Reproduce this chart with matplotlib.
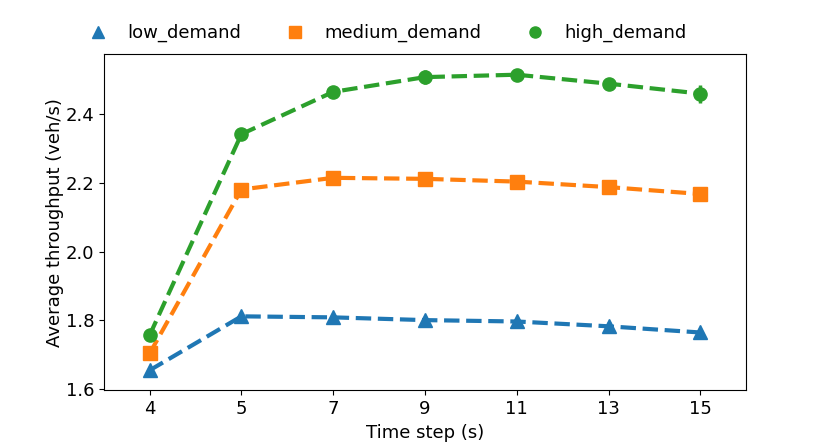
import matplotlib
matplotlib.use("Agg")
from matplotlib import pyplot as plt
from matplotlib.lines import Line2D
import numpy as np

time_steps = ["4", "5", "7", "9", "11", "13", "15"]
low_demand = [1.655, 1.812, 1.809, 1.801, 1.797, 1.783, 1.765]
medium_demand = [1.704, 2.181, 2.215, 2.212, 2.204, 2.188, 2.168]
high_demand = [1.757, 2.342, 2.465, 2.508, 2.515, 2.489, 2.460]
low_err = [0.01, 0.01, 0.01, 0.01, 0.01, 0.012, 0.01]
medium_err = [0.015, 0.015, 0.015, 0.018, 0.015, 0.015, 0.018]
high_err = [0.016, 0.016, 0.016, 0.02, 0.012, 0.014, 0.026]

series = [
    ("low_demand", low_demand, low_err, "#1f77b4", "^"),
    ("medium_demand", medium_demand, medium_err, "#ff7f0e", "s"),
    ("high_demand", high_demand, high_err, "#2ca02c", "o"),
]

fig, ax = plt.subplots(figsize=(8.3, 4.47), dpi=100)
fig.subplots_adjust(left=0.125, right=0.899, top=0.879, bottom=0.127)

x = np.arange(len(time_steps))
handles = []
for name, vals, err, color, marker in series:
    ax.errorbar(x, vals, yerr=err, color=color, marker=marker, markersize=9.5,
                linestyle="--", linewidth=3, elinewidth=2.5, capsize=0)
    handles.append(Line2D([], [], color=color, marker=marker, linestyle="none",
                          markersize=8, label=name))

ax.set_xticks(x)
ax.set_xticklabels(time_steps)
ax.set_xlim(-0.5, len(time_steps) - 0.5)
ax.set_ylim(1.597, 2.575)
ax.set_yticks([1.6, 1.8, 2.0, 2.2, 2.4])
ax.tick_params(labelsize=13)
ax.set_xlabel("Time step (s)", fontsize=13)
ax.set_ylabel("Average throughput (veh/s)", fontsize=13, labelpad=1)

ax.legend(handles=handles, loc="lower center", bbox_to_anchor=(0.435, 1.0),
          ncol=3, frameon=False, fontsize=13, columnspacing=1.95,
          handletextpad=0.65, borderaxespad=0.25)

plt.savefig("out.png")
